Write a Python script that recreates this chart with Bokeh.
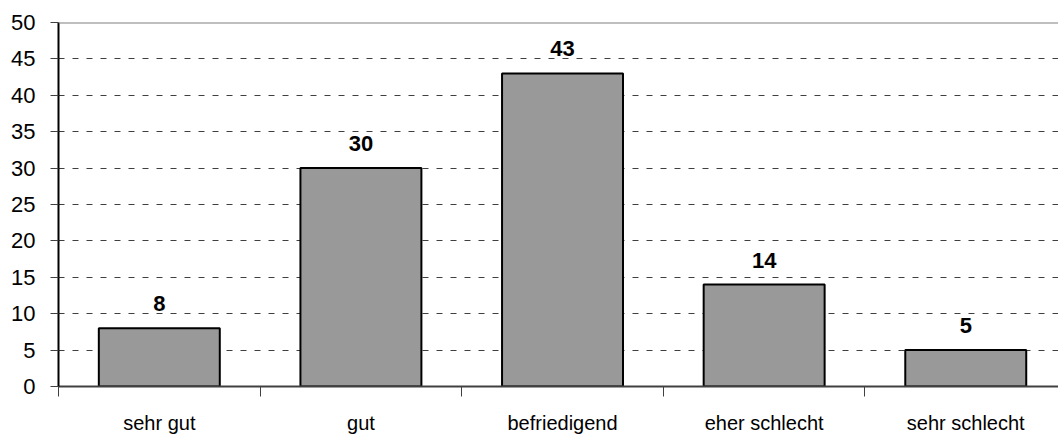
from bokeh.plotting import figure
from bokeh.models import Range1d, FixedTicker, ColumnDataSource, Span, LabelSet
from bokeh.core.properties import value
from bokeh.embed import file_html
from bokeh.resources import INLINE

categories = ["sehr gut", "gut", "befriedigend", "eher schlecht", "sehr schlecht"]
values = [8, 30, 43, 14, 5]
y_ticks = [0, 5, 10, 15, 20, 25, 30, 35, 40, 45, 50]

FONT = "Liberation Sans"

centers = [i + 0.5 for i in range(len(categories))]
src = ColumnDataSource(dict(x=centers, top=values, lab=[str(v) for v in values]))

p = figure(width=1058, height=436, output_backend="svg", toolbar_location=None,
           x_range=Range1d(0, 4.96), y_range=Range1d(0, 50),
           min_border_left=58, min_border_right=0, min_border_top=22, min_border_bottom=49)
p.outline_line_color = None
p.background_fill_color = "white"
p.border_fill_color = "white"

p.vbar(x="x", top="top", width=0.6, bottom=0, source=src,
       fill_color="#999999", line_color="black", line_width=2)

labels = LabelSet(x="x", y="top", text="lab", source=src, text_align="center",
                  text_baseline="alphabetic", y_offset=17, text_font=value(FONT),
                  text_font_size=value("22px"), text_font_style=value("bold"),
                  text_color=value("black"))
p.add_layout(labels)

p.add_layout(Span(location=50, dimension="width", line_color="#808080", line_width=2))

# y axis
p.yaxis.ticker = FixedTicker(ticks=y_ticks)
p.yaxis.axis_line_color = "black"
p.yaxis.axis_line_width = 2
p.yaxis.major_tick_out = 8
p.yaxis.major_tick_in = 0
p.yaxis.major_tick_line_color = "#404040"
p.yaxis.minor_tick_line_color = None
p.yaxis.major_label_standoff = 15
p.yaxis.major_label_text_font = FONT
p.yaxis.major_label_text_font_size = "22px"
p.yaxis.major_label_text_color = "black"

# x axis
p.xaxis.ticker = FixedTicker(ticks=centers, minor_ticks=[0, 1, 2, 3, 4])
p.xaxis.major_label_overrides = {c: n for c, n in zip(centers, categories)}
p.xaxis.axis_line_color = "#404040"
p.xaxis.axis_line_width = 2
p.xaxis.major_tick_out = 0
p.xaxis.major_tick_in = 0
p.xaxis.minor_tick_out = 10
p.xaxis.minor_tick_in = 0
p.xaxis.minor_tick_line_color = "#404040"
p.xaxis.minor_tick_line_width = 1
p.xaxis.major_label_standoff = 15
p.xaxis.major_label_text_font = FONT
p.xaxis.major_label_text_font_size = "20px"
p.xaxis.major_label_text_color = "black"

p.xgrid.grid_line_color = None
p.ygrid.ticker = FixedTicker(ticks=y_ticks[1:])
p.ygrid.grid_line_color = "#404040"
p.ygrid.grid_line_dash = "6 8"
p.ygrid.grid_line_width = 1

open("out.html", "w").write(file_html(p, INLINE))
